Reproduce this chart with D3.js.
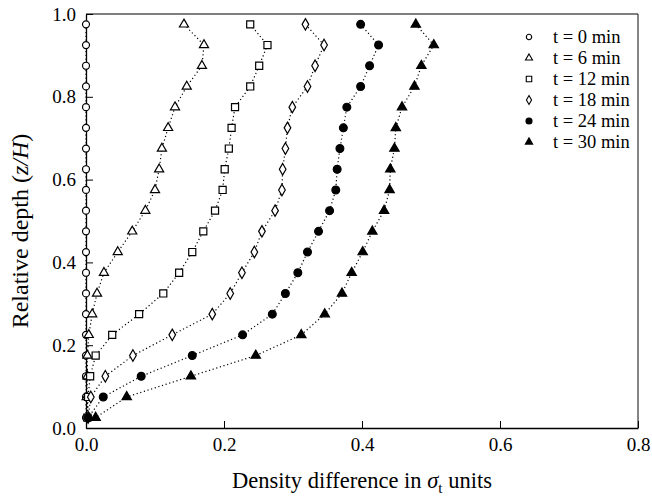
<!DOCTYPE html>
<html>
<head>
<meta charset="utf-8">
<script src="https://cdn.jsdelivr.net/npm/d3@7/dist/d3.min.js"></script>
<style>
  html, body { margin: 0; padding: 0; background: #fff; }
</style>
</head>
<body>
<svg id="chart" width="652" height="499" font-family="Liberation Serif"></svg>
<script>
// Relative depth of each sampling level (z/H)
const depths = [0.975, 0.925, 0.875, 0.825, 0.775, 0.725, 0.675, 0.625, 0.575, 0.525,
                0.475, 0.425, 0.375, 0.325, 0.275, 0.225, 0.175, 0.125, 0.075, 0.025];

// Density difference (sigma_t units) at each depth, one array per time
const t0  = [0, 0, 0, 0, 0, 0, 0, 0, 0, 0, 0, 0, 0, 0, 0, 0, 0, 0, 0, 0];
const t6  = [0.142, 0.171, 0.168, 0.146, 0.129, 0.119, 0.110, 0.106, 0.100, 0.086,
             0.067, 0.046, 0.026, 0.016, 0.009, 0.004, 0.002, 0.002, 0.001, 0.004];
const t12 = [0.238, 0.263, 0.251, 0.238, 0.216, 0.211, 0.207, 0.201, 0.198, 0.187,
             0.170, 0.154, 0.135, 0.112, 0.077, 0.038, 0.014, 0.006, 0.003, 0.002];
const t18 = [0.318, 0.345, 0.332, 0.321, 0.299, 0.292, 0.289, 0.285, 0.284, 0.274,
             0.255, 0.244, 0.226, 0.209, 0.183, 0.125, 0.068, 0.028, 0.007, 0.003];
const t24 = [0.398, 0.424, 0.411, 0.398, 0.378, 0.373, 0.368, 0.364, 0.362, 0.353,
             0.337, 0.321, 0.307, 0.289, 0.270, 0.227, 0.154, 0.080, 0.025, 0.003];
const t30 = [0.478, 0.504, 0.486, 0.476, 0.458, 0.449, 0.447, 0.441, 0.440, 0.432,
             0.415, 0.401, 0.385, 0.371, 0.346, 0.312, 0.246, 0.152, 0.059, 0.014];

const seriesLabels = ["t = 0 min", "t = 6 min", "t = 12 min", "t = 18 min", "t = 24 min", "t = 30 min"];
const xTicks = [0.0, 0.2, 0.4, 0.6, 0.8];
const yTicks = [0.0, 0.2, 0.4, 0.6, 0.8, 1.0];

const SERIF = "Liberation Serif";

const series = [
  { label: seriesLabels[0], values: t0,  symbol: d3.symbolCircle,   size: 38, fill: "#fff" },
  { label: seriesLabels[1], values: t6,  symbol: d3.symbolTriangle, size: 36, fill: "#fff" },
  { label: seriesLabels[2], values: t12, symbol: d3.symbolSquare,   size: 50, fill: "#fff" },
  { label: seriesLabels[3], values: t18, symbol: d3.symbolDiamond,  size: 38, fill: "#fff" },
  { label: seriesLabels[4], values: t24, symbol: d3.symbolCircle,   size: 48, fill: "#000" },
  { label: seriesLabels[5], values: t30, symbol: d3.symbolTriangle, size: 38, fill: "#000" }
];

const svg = d3.select("#chart");
const margin = { left: 86, top: 14, right: 14, bottom: 71 };
const W = 652, H = 499;
const x = d3.scaleLinear().domain([0, 0.8]).range([margin.left, W - margin.right]);
const y = d3.scaleLinear().domain([0, 1.0]).range([H - margin.bottom, margin.top]);

// Frame: top and right borders
svg.append("line").attr("x1", x(0)).attr("x2", x(0.8)).attr("y1", y(1)).attr("y2", y(1))
  .attr("stroke", "#555").attr("stroke-width", 1.5);
svg.append("line").attr("x1", x(0.8)).attr("x2", x(0.8)).attr("y1", y(1)).attr("y2", y(0))
  .attr("stroke", "#333").attr("stroke-width", 1.2);

// Bottom axis with inward ticks
const xAxis = d3.axisBottom(x).tickValues(xTicks).tickSizeInner(-7).tickSizeOuter(0)
  .tickPadding(10).tickFormat(d3.format(".1f"));
const gx = svg.append("g").attr("transform", `translate(0,${y(0)})`).call(xAxis)
  .attr("font-family", SERIF).attr("font-size", 19);
gx.select(".domain").attr("stroke", "#000").attr("stroke-width", 1.3);
gx.selectAll(".tick line").attr("stroke", "#000");
gx.selectAll(".tick text").attr("font-family", SERIF).attr("font-size", 19)
  .attr("dy", "0.71em").attr("fill", "#000");

// Left axis with inward ticks
const yAxis = d3.axisLeft(y).tickValues(yTicks).tickSizeInner(-7).tickSizeOuter(0)
  .tickPadding(10).tickFormat(d3.format(".1f"));
const gy = svg.append("g").attr("transform", `translate(${x(0)},0)`).call(yAxis)
  .attr("font-family", SERIF).attr("font-size", 19);
gy.select(".domain").attr("stroke", "#000").attr("stroke-width", 1.3);
gy.selectAll(".tick line").attr("stroke", "#000");
gy.selectAll(".tick text").attr("font-family", SERIF).attr("font-size", 19).attr("fill", "#000");

// Dotted profile lines
const line = d3.line().x(d => x(d[0])).y(d => y(d[1]));
series.forEach(s => {
  const pts = s.values.map((v, i) => [v, depths[i]]);
  svg.append("path").attr("d", line(pts)).attr("fill", "none")
    .attr("stroke", "#000").attr("stroke-width", 1.2)
    .attr("stroke-dasharray", "1.2,2.6");
});

// Markers
series.forEach(s => {
  const sym = d3.symbol().type(s.symbol).size(s.size);
  svg.append("g").selectAll("path").data(s.values).join("path")
    .attr("transform", (v, i) => `translate(${x(v)},${y(depths[i])})`)
    .attr("d", sym)
    .attr("fill", s.fill).attr("stroke", "#000").attr("stroke-width", 1.2);
});

// Legend
const leg = svg.append("g").attr("transform", "translate(529,37)");
series.forEach((s, i) => {
  const row = leg.append("g").attr("transform", `translate(0,${i * 21})`);
  row.append("path").attr("d", d3.symbol().type(s.symbol).size(s.size * 0.6)())
    .attr("fill", s.fill).attr("stroke", "#000").attr("stroke-width", 1.1);
  row.append("text").attr("x", 24).attr("dy", "0.35em").attr("font-size", 18.5)
    .attr("font-family", SERIF).text(s.label);
});

// Axis titles
const xt = svg.append("text").attr("x", (x(0) + x(0.8)) / 2).attr("y", 488)
  .attr("text-anchor", "middle").attr("font-size", 22.5).attr("font-family", SERIF);
xt.append("tspan").text("Density difference in ");
xt.append("tspan").attr("font-style", "italic").text("σ");
xt.append("tspan").attr("font-size", 15).attr("dy", 5).text("t");
xt.append("tspan").attr("dy", -5).text(" units");

const yt = svg.append("text").attr("transform", "translate(28,231) rotate(-90)")
  .attr("text-anchor", "middle").attr("font-size", 24).attr("font-family", SERIF);
yt.append("tspan").text("Relative depth (");
yt.append("tspan").attr("font-style", "italic").text("z/H");
yt.append("tspan").text(")");
</script>
</body>
</html>
